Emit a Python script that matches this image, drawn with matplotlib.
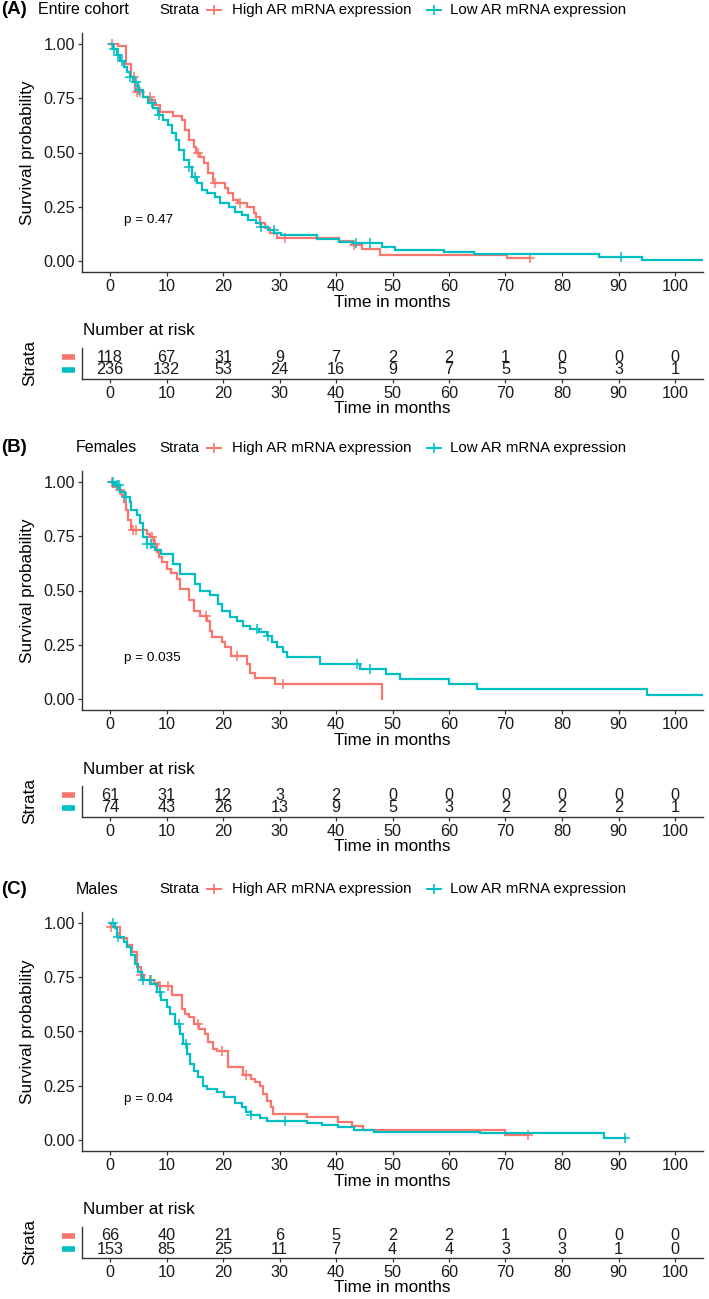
import matplotlib
matplotlib.use('Agg')
import matplotlib.pyplot as plt
import matplotlib.transforms as mtransforms
from matplotlib.lines import Line2D
import numpy as np

plt.rcParams['font.family'] = ['Liberation Sans', 'DejaVu Sans']

RED = '#F8766D'
CYAN = '#00BFC4'
W, H = 709, 1299

# ---- data ----
panel_tags = ['(A)', '(B)', '(C)']
panel_names = ['Entire cohort', 'Females', 'Males']
p_values = ['p = 0.47', 'p = 0.035', 'p = 0.04']
group_labels = ['High AR mRNA expression', 'Low AR mRNA expression']
risk_times = [0, 10, 20, 30, 40, 50, 60, 70, 80, 90, 100]

# (A) entire cohort
a_high_t = [0, 1.5, 2.9, 3.8, 4.4, 5.9, 7.1, 8.0, 8.9, 11.2, 12.7, 13.3, 13.9, 14.8, 15.3,
            15.9, 16.6, 17.4, 18.3, 20.4, 20.9, 21.8, 22.7, 24.2, 25.4, 25.9, 26.5, 27.4,
            28.4, 29.5, 40.5, 42.8, 44.6, 47.8, 70.2, 74.3]
a_high_s = [1.0, 0.99, 0.91, 0.85, 0.78, 0.757, 0.742, 0.719, 0.688, 0.668, 0.65, 0.604,
            0.558, 0.527, 0.496, 0.481, 0.45, 0.404, 0.358, 0.338, 0.312, 0.281, 0.266,
            0.25, 0.22, 0.204, 0.174, 0.151, 0.131, 0.105, 0.09, 0.074, 0.056, 0.028,
            0.012, 0.012]
a_low_t = [0, 0.6, 1.2, 1.8, 2.4, 3.0, 3.5, 4.1, 5.0, 5.9, 6.8, 7.6, 8.5, 9.3, 10.2, 11.0,
           11.6, 12.2, 13.1, 14.0, 14.5, 15.4, 16.3, 17.2, 18.6, 19.5, 21.0, 22.2, 23.3,
           24.5, 25.9, 26.8, 28.0, 29.1, 30.3, 36.6, 40.5, 43.0, 48.1, 50.5, 59.1, 64.4,
           86.6, 94.2, 105]
a_low_s = [1.0, 0.975, 0.949, 0.92, 0.895, 0.87, 0.849, 0.826, 0.788, 0.757, 0.727, 0.704,
           0.673, 0.65, 0.627, 0.588, 0.558, 0.512, 0.465, 0.435, 0.389, 0.358, 0.327,
           0.312, 0.297, 0.266, 0.25, 0.227, 0.212, 0.189, 0.174, 0.158, 0.143, 0.128,
           0.118, 0.1, 0.089, 0.081, 0.066, 0.051, 0.043, 0.032, 0.017, 0.006, 0.006]
a_high_cens = [0.3, 4.3, 4.8, 5.3, 7.0, 15.6, 18.6, 23.0, 26.6, 31.0, 43.2, 74.3]
a_low_cens = [0.7, 1.5, 2.2, 3.5, 4.6, 5.2, 7.5, 8.6, 14.0, 15.0, 26.8, 29.0, 43.6, 46.0, 90.5]
a_high_risk = [118, 67, 31, 9, 7, 2, 2, 1, 0, 0, 0]
a_low_risk = [236, 132, 53, 24, 16, 9, 7, 5, 5, 3, 1]

# (B) females
b_high_t = [0, 0.6, 1.5, 2.1, 2.5, 2.8, 3.1, 3.8, 6.5, 7.1, 7.7, 8.3, 8.6, 9.2, 10.0, 10.8,
            11.8, 12.4, 13.9, 14.8, 15.9, 17.1, 17.7, 18.0, 19.8, 20.4, 21.5, 24.2, 24.8,
            25.7, 29.2, 48.1, 48.2]
b_high_s = [1.0, 0.978, 0.963, 0.94, 0.909, 0.87, 0.824, 0.778, 0.762, 0.747, 0.716, 0.677,
            0.654, 0.63, 0.60, 0.58, 0.554, 0.508, 0.454, 0.407, 0.384, 0.361, 0.315, 0.284,
            0.261, 0.238, 0.2, 0.161, 0.122, 0.099, 0.071, 0.0, 0.0]
b_low_t = [0, 0.9, 1.8, 2.65, 3.5, 3.8, 4.7, 5.3, 5.9, 6.5, 7.4, 8.0, 9.1, 11.2, 12.4, 15.0,
           15.9, 17.7, 19.2, 19.8, 21.3, 22.5, 23.6, 24.8, 26.4, 27.7, 28.6, 29.5, 30.7,
           31.3, 37.2, 44.2, 48.8, 51.4, 60.0, 65.0, 95.0, 105]
b_low_s = [1.0, 0.986, 0.955, 0.932, 0.909, 0.87, 0.847, 0.809, 0.747, 0.716, 0.701, 0.685,
           0.67, 0.623, 0.577, 0.531, 0.5, 0.477, 0.438, 0.407, 0.377, 0.361, 0.338, 0.323,
           0.31, 0.292, 0.261, 0.238, 0.215, 0.192, 0.159, 0.137, 0.114, 0.091, 0.068,
           0.046, 0.019, 0.019]
b_high_cens = [0.3, 1.8, 4.0, 4.6, 7.4, 8.0, 17.0, 22.5, 30.6]
b_low_cens = [0.5, 1.2, 1.6, 2.8, 6.6, 7.2, 26.0, 28.0, 43.8, 46.0]
b_high_risk = [61, 31, 12, 3, 2, 0, 0, 0, 0, 0, 0]
b_low_risk = [74, 43, 26, 13, 9, 5, 3, 2, 2, 2, 1]

# (C) males
c_high_t = [0, 0.1, 1.8, 3.0, 3.9, 4.8, 5.4, 6.0, 7.8, 8.6, 10.9, 12.7, 13.3, 13.9, 14.8,
            15.7, 16.8, 17.4, 18.3, 18.9, 20.8, 23.6, 25.0, 25.7, 26.5, 27.1, 27.7, 28.5,
            28.9, 34.8, 40.4, 42.8, 44.8, 69.9, 73.9]
c_high_s = [1.0, 0.983, 0.929, 0.898, 0.867, 0.798, 0.759, 0.736, 0.722, 0.708, 0.667,
            0.605, 0.58, 0.566, 0.535, 0.512, 0.489, 0.45, 0.42, 0.412, 0.335, 0.30, 0.28,
            0.265, 0.25, 0.21, 0.18, 0.15, 0.12, 0.106, 0.085, 0.065, 0.045, 0.022, 0.022]
c_low_t = [0, 0.9, 1.2, 2.4, 3.0, 3.8, 4.4, 5.0, 5.6, 7.1, 8.3, 9.1, 10.0, 10.6, 11.5, 12.4,
           13.0, 13.6, 14.2, 14.8, 15.6, 16.5, 17.1, 18.9, 20.1, 22.1, 23.3, 24.1, 25.0,
           26.5, 27.7, 34.8, 37.6, 40.4, 43.2, 46.8, 65.5, 87.5, 91.1]
c_low_s = [1.0, 0.975, 0.937, 0.914, 0.89, 0.852, 0.813, 0.775, 0.736, 0.72, 0.682, 0.644,
           0.613, 0.582, 0.535, 0.489, 0.443, 0.397, 0.35, 0.32, 0.29, 0.25, 0.235, 0.219,
           0.196, 0.17, 0.15, 0.13, 0.115, 0.1, 0.088, 0.08, 0.07, 0.06, 0.045, 0.037,
           0.031, 0.011, 0.011]
c_high_cens = [0.2, 5.5, 7.3, 8.8, 10.3, 15.5, 19.9, 24.0, 73.9]
c_low_cens = [0.6, 1.5, 5.9, 7.0, 8.8, 12.2, 13.4, 25.0, 31.0, 91.1]
c_high_risk = [66, 40, 21, 6, 5, 2, 2, 1, 0, 0, 0]
c_low_risk = [153, 85, 25, 11, 7, 4, 4, 3, 3, 1, 0]

panels = [
    ((a_high_t, a_high_s, a_high_cens, a_high_risk), (a_low_t, a_low_s, a_low_cens, a_low_risk)),
    ((b_high_t, b_high_s, b_high_cens, b_high_risk), (b_low_t, b_low_s, b_low_cens, b_low_risk)),
    ((c_high_t, c_high_s, c_high_cens, c_high_risk), (c_low_t, c_low_s, c_low_cens, c_low_risk)),
]
offsets = [0, 438, 879]
name_x = [38, 76, 76]


def px_axes(fig, left, top, right, bottom):
    return fig.add_axes([left / W, 1 - bottom / H, (right - left) / W, (bottom - top) / H])


def surv_at(t, s, when):
    idx = np.searchsorted(t, when, side='right') - 1
    return np.array(s)[idx]


def style_axis(ax):
    for side in ['top', 'right']:
        ax.spines[side].set_visible(False)
    for side in ['left', 'bottom']:
        ax.spines[side].set_color('#333333')
        ax.spines[side].set_linewidth(1.0)
    ax.tick_params(length=3, width=0.9, color='#333333', labelsize=11.7, pad=2,
                   labelcolor='#1a1a1a')


fig = plt.figure(figsize=(W / 100, H / 100), dpi=100)
colors = [RED, CYAN]

for k, groups in enumerate(panels):
    o = offsets[k]

    # header line: tag, name and legend
    yh = 1 - (10 + o) / H
    fig.text(0.002, yh, panel_tags[k], fontsize=13.5, fontweight='bold', va='center', ha='left')
    fig.text(name_x[k] / W, yh, panel_names[k], fontsize=11.5, va='center', ha='left')
    fig.text(159 / W, yh, 'Strata', fontsize=10.8, va='center', ha='left')
    for xk, xt, col, lab in [(214, 232, RED, group_labels[0]), (434, 450, CYAN, group_labels[1])]:
        fig.add_artist(Line2D([(xk - 7) / W, (xk + 7) / W], [yh, yh], color=col, lw=1.4,
                              transform=fig.transFigure))
        fig.add_artist(Line2D([xk / W], [yh], color=col, marker='+', ms=7, mew=1.2,
                              transform=fig.transFigure))
        fig.text(xt / W, yh, lab, fontsize=10.8, va='center', ha='left')

    # survival curves
    ax = px_axes(fig, 81.75, 33.15 + o, 703.25, 271.85 + o)
    for (t, s, cens, risk), col in zip(groups, colors):
        ax.step(t, s, where='post', color=col, lw=1.6, solid_joinstyle='miter')
        ax.plot(cens, surv_at(t, s, cens), linestyle='none', marker='+', ms=6.5, mew=1.1,
                color=col)
    ax.set_xlim(-5, 105)
    ax.set_ylim(-0.05, 1.05)
    ax.set_xticks(risk_times)
    ax.set_yticks([0, 0.25, 0.5, 0.75, 1.0])
    ax.set_yticklabels(['0.00', '0.25', '0.50', '0.75', '1.00'])
    style_axis(ax)
    ax.set_xlabel('Time in months', fontsize=12.3, labelpad=1)
    ax.set_ylabel('Survival probability', fontsize=12.3, labelpad=6)
    ax.text(2.5, 0.19, p_values[k], fontsize=9.7, va='center', ha='left')

    # risk table
    tb = px_axes(fig, 81.75, 347.9 + o, 703.25, 379.1 + o)
    tb.set_xlim(-5, 105)
    tb.set_ylim(-0.7, 1.7)
    for row, ((t, s, cens, risk), col) in zip([1, 0], zip(groups, colors)):
        for tt, n in zip(risk_times, risk):
            tb.text(tt, row, str(n), ha='center', va='center', fontsize=11.7, color='#1a1a1a')
        trans = mtransforms.blended_transform_factory(tb.transAxes, tb.transData)
        tb.plot([-0.032, -0.011], [row, row], color=col, lw=4, solid_capstyle='butt',
                transform=trans, clip_on=False)
    tb.set_xticks(risk_times)
    tb.set_yticks([])
    style_axis(tb)
    tb.set_xlabel('Time in months', fontsize=12.3, labelpad=0)
    fig.text(83 / W, 1 - (331 + o) / H, 'Number at risk', fontsize=12.3, va='center', ha='left')
    fig.text(30 / W, 1 - (363 + o) / H, 'Strata', fontsize=12.3, rotation=90, va='center',
             ha='center')

fig.savefig('out.png', dpi=100)
